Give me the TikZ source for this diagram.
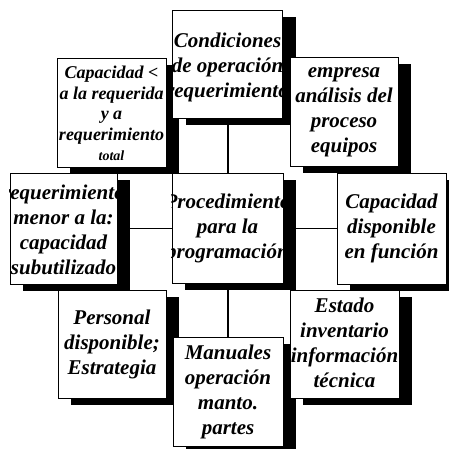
\documentclass[tikz,border=0pt]{standalone}
\usepackage{fontspec}
\setmainfont{Liberation Serif}
\usetikzlibrary{shadows,backgrounds}
\tikzset{
  box/.style={draw=black, fill=white, line width=0.8pt, inner sep=0pt,
    minimum width=#1, minimum height=109pt,
    drop shadow={shadow xshift=13pt, shadow yshift=-7pt, fill=black, opacity=1}},
  box/.default=109pt,
  txt/.style={align=center, inner sep=0pt, font=\fontsize{21}{25}\selectfont\bfseries\itshape},
  smalltxt/.style={align=center, inner sep=0pt, font=\fontsize{18}{20.5}\selectfont\bfseries\itshape},
  link/.style={draw=black, line width=1.2pt}
}
\newcommand{\clipto}[1]{\clip (#1.south west) rectangle (#1.north east);}
\begin{document}
\begin{tikzpicture}[x=1pt,y=1pt]
\useasboundingbox (0,0) rectangle (449,449);
% left column
\node[box] (capl) at (111.5,336.5) {};
\begin{scope}\clipto{capl}
\node[smalltxt] (caplt) at ([yshift=-1pt]capl) {Capacidad <\\a la requerida\\y a\\requerimiento\\{\fontsize{14}{16}\selectfont total}};
\end{scope}
\node[box=107pt, minimum height=111pt] (left) at (63.5,220.5) {};
\begin{scope}\clipto{left}
\node[txt] (leftt) at ([yshift=-1pt]left) {requerimiento\\menor a la:\\capacidad\\subutilizado};
\end{scope}
\node[box=108pt, minimum height=108pt] (pers) at (112,105) {};
\begin{scope}\clipto{pers}
\node[txt] (perst) at (pers) {Personal\\disponible;\\Estrategia};
\end{scope}
% middle column
\node[box=110pt, minimum height=108pt] (cond) at (227.5,385) {};
\begin{scope}\clipto{cond}
\node[txt] (condt) at ([yshift=-3pt]cond) {Condiciones\\de operación\\requerimiento};
\end{scope}
\node[box=111pt, minimum height=110pt] (center) at (227.5,221) {};
\begin{scope}\clipto{center}
\node[txt] (centert) at (center) {Procedimiento\\para la\\programación};
\end{scope}
\node[box=110pt] (man) at (228,57.5) {};
\begin{scope}\clipto{man}
\node[txt] (mant) at (man) {Manuales\\operación\\manto.\\partes};
\end{scope}
% right column
\node[box=108pt] (emp) at (344,337.5) {};
\begin{scope}\clipto{emp}
\node[txt] (empt) at ([yshift=-1pt]emp) {empresa\\análisis del\\proceso\\equipos};
\end{scope}
\node[box=109pt, minimum height=111pt] (right) at (391.5,220.5) {};
\begin{scope}\clipto{right}
\node[txt] (rightt) at (right) {Capacidad\\disponible\\en función};
\end{scope}
\node[box=109pt, minimum height=108pt] (est) at (344.5,105) {};
\begin{scope}\clipto{est}
\node[txt] (estt) at ([yshift=1pt]est) {Estado\\inventario\\información\\técnica};
\end{scope}
% connectors
\begin{scope}[on background layer]
\draw[link] (cond.center) -- (man.center |- cond.center) -- (man.center);
\draw[link] (left) -- (right);
\end{scope}
\end{tikzpicture}
\end{document}
